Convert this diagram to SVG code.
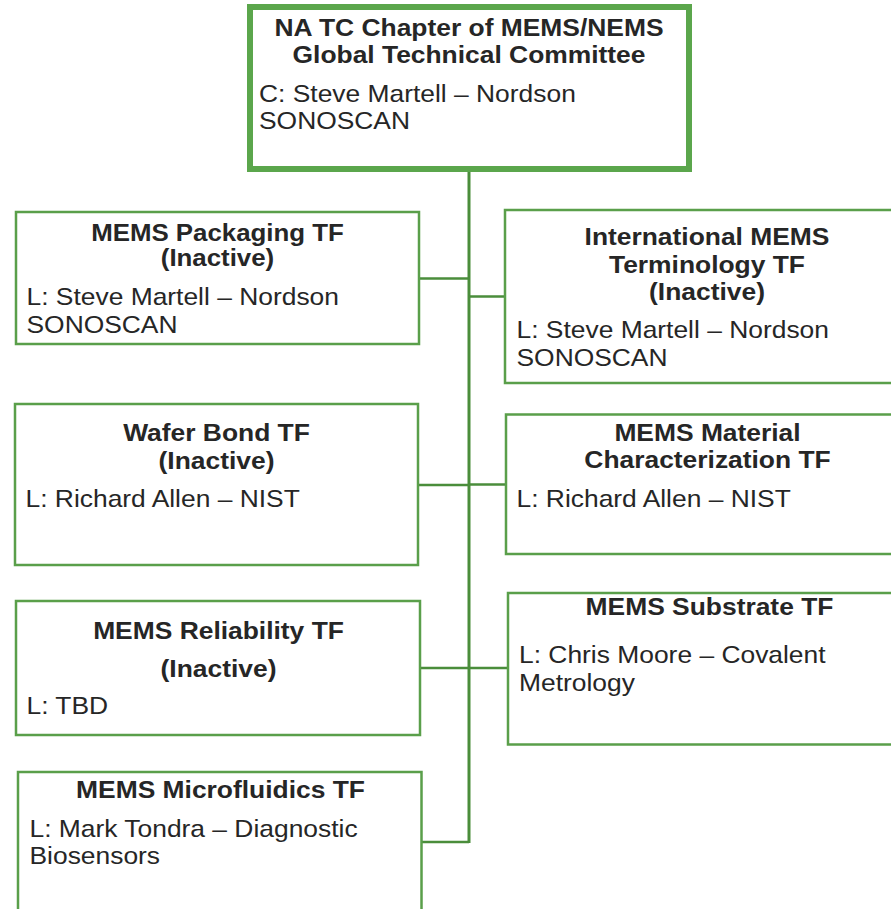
<svg xmlns="http://www.w3.org/2000/svg" width="891" height="909" viewBox="0 0 891 909">
  <style>
    .box { fill: #ffffff; stroke: #5a9f4a; stroke-width: 2.5; }
    .root { fill: #ffffff; stroke: #5ba64c; stroke-width: 6; }
    .wire { fill: none; stroke: #4a8d3b; stroke-width: 2.5; }
    .trunk { fill: none; stroke: #4a8d3b; stroke-width: 3; }
    text { font-family: "Liberation Sans", Arial, sans-serif; font-size: 24px; fill: #262626; }
    .t { font-weight: bold; text-anchor: middle; }
  </style>
  <rect width="891" height="909" fill="#ffffff"/>

  <!-- connectors -->
  <g id="connectors">
    <line class="trunk" x1="469" y1="172" x2="469" y2="843"/>
    <polyline class="wire" points="419,278.5 469,278.5"/>
    <polyline class="wire" points="469,296.5 505,296.5"/>
    <polyline class="wire" points="418,485 469,485"/>
    <polyline class="wire" points="469,484.5 506,484.5"/>
    <polyline class="wire" points="420,668 469,668"/>
    <polyline class="wire" points="469,668 508,668"/>
    <polyline class="wire" points="421,842 469,842"/>
  </g>

  <!-- chapter root -->
  <g id="chapter">
    <rect class="root" x="250" y="7" width="439" height="162"/>
    <text class="t" transform="translate(469,35.5) scale(1.1,1)">NA TC Chapter of MEMS/NEMS</text>
    <text class="t" transform="translate(469,62.5) scale(1.1,1)">Global Technical Committee</text>
    <text transform="translate(259,101.5) scale(1.1,1)">C: Steve Martell – Nordson</text>
    <text transform="translate(259,129) scale(1.1,1)">SONOSCAN</text>
  </g>

  <!-- left column -->
  <g id="packaging">
    <rect class="box" x="16" y="212" width="403" height="132"/>
    <text class="t" style="font-size:23.5px" transform="translate(217.5,240.5) scale(1.1,1)">MEMS Packaging TF</text>
    <text class="t" style="font-size:23.5px" transform="translate(217.5,265.5) scale(1.1,1)">(Inactive)</text>
    <text transform="translate(26.5,305) scale(1.1,1)">L: Steve Martell – Nordson</text>
    <text transform="translate(26.5,332.5) scale(1.1,1)">SONOSCAN</text>
  </g>

  <g id="wafer-bond">
    <rect class="box" x="15" y="404" width="403" height="161"/>
    <text class="t" transform="translate(216.5,440.5) scale(1.1,1)">Wafer Bond TF</text>
    <text class="t" transform="translate(216.5,469) scale(1.1,1)">(Inactive)</text>
    <text transform="translate(25.5,506.5) scale(1.1,1)">L: Richard Allen – NIST</text>
  </g>

  <g id="reliability">
    <rect class="box" x="16" y="601" width="404" height="134"/>
    <text class="t" transform="translate(218.5,639) scale(1.1,1)">MEMS Reliability TF</text>
    <text class="t" transform="translate(218.5,676.5) scale(1.1,1)">(Inactive)</text>
    <text transform="translate(26.5,714) scale(1.1,1)">L: TBD</text>
  </g>

  <g id="microfluidics">
    <rect class="box" x="18" y="772" width="403.5" height="160"/>
    <text class="t" transform="translate(220.5,798) scale(1.1,1)">MEMS Microfluidics TF</text>
    <text transform="translate(29.5,836.5) scale(1.1,1)">L: Mark Tondra – Diagnostic</text>
    <text transform="translate(29.5,864) scale(1.1,1)">Biosensors</text>
  </g>

  <!-- right column -->
  <g id="terminology">
    <rect class="box" x="505" y="210" width="400" height="173"/>
    <text class="t" transform="translate(707,245) scale(1.1,1)">International MEMS</text>
    <text class="t" transform="translate(707,272.5) scale(1.1,1)">Terminology TF</text>
    <text class="t" transform="translate(707,299.5) scale(1.1,1)">(Inactive)</text>
    <text transform="translate(516.5,338) scale(1.1,1)">L: Steve Martell – Nordson</text>
    <text transform="translate(516.5,365.5) scale(1.1,1)">SONOSCAN</text>
  </g>

  <g id="material">
    <rect class="box" x="506" y="414.5" width="400" height="139.5"/>
    <text class="t" transform="translate(707.5,440.5) scale(1.1,1)">MEMS Material</text>
    <text class="t" transform="translate(707.5,467.5) scale(1.1,1)">Characterization TF</text>
    <text transform="translate(516.5,506.5) scale(1.1,1)">L: Richard Allen – NIST</text>
  </g>

  <g id="substrate">
    <rect class="box" x="508" y="593" width="400" height="151.5"/>
    <text class="t" transform="translate(709.5,615) scale(1.1,1)">MEMS Substrate TF</text>
    <text transform="translate(519,663) scale(1.1,1)">L: Chris Moore – Covalent</text>
    <text transform="translate(519,691) scale(1.1,1)">Metrology</text>
  </g>
</svg>
